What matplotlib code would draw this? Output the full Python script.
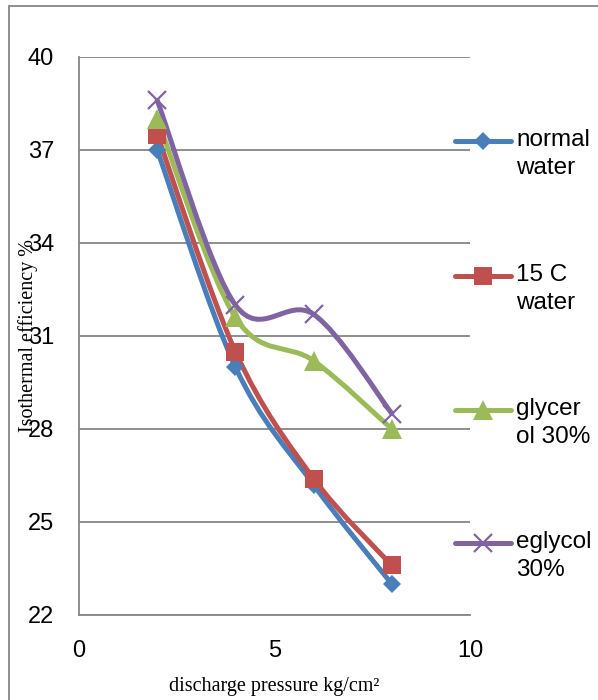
import matplotlib
matplotlib.use("Agg")
import matplotlib.pyplot as plt
import numpy as np
from matplotlib.path import Path
from matplotlib.patches import PathPatch, Rectangle
from matplotlib.lines import Line2D

# ---- data ----
pressure = [2, 4, 6, 8]
normal_water = [37.0, 30.0, 26.2, 23.0]
water_15c = [37.5, 30.5, 26.4, 23.6]
glycerol_30 = [38.0, 31.6, 30.2, 28.0]
eglycol_30 = [38.6, 32.0, 31.7, 28.5]
series_labels = ["normal\nwater", "15 C\nwater", "glycer\nol 30%", "eglycol\n30%"]
x_ticks = [0, 5, 10]
y_ticks = [22, 25, 28, 31, 34, 37, 40]
x_label = "discharge pressure kg/cm²"
y_label = "Isothermal efficiency %"

colors = ["#4A7EBB", "#C0504D", "#9BBB59", "#8064A2"]
markers = ["D", "s", "^", "x"]
msizes = [9, 13, 14, 13]

W, H = 598, 700
fig = plt.figure(figsize=(W / 100, H / 100), dpi=100)
ax = fig.add_axes([79 / W, 1 - 615 / H, (470 - 79) / W, (615 - 57) / H])

grey = "#868686"
sans = ["Liberation Sans", "DejaVu Sans"]
serif = ["Liberation Serif", "DejaVu Serif"]


def smooth_path(xs, ys):
    # Excel-like smoothed line: cubic Bezier through the data points
    P = np.column_stack([xs, ys]).astype(float)
    n = len(P)
    verts = [P[0]]
    codes = [Path.MOVETO]
    for i in range(n - 1):
        p0 = P[i - 1] if i > 0 else P[i]
        p1 = P[i]
        p2 = P[i + 1]
        p3 = P[i + 2] if i + 2 < n else P[i + 1]
        c1 = p1 + (p2 - p0) / 6.0
        c2 = p2 - (p3 - p1) / 6.0
        verts += [c1, c2, p2]
        codes += [Path.CURVE4] * 3
    return Path(verts, codes)


all_series = [normal_water, water_15c, glycerol_30, eglycol_30]
for ys, c, m, ms in zip(all_series, colors, markers, msizes):
    patch = PathPatch(smooth_path(pressure, ys), facecolor="none", edgecolor=c,
                      lw=3.6, capstyle="round", joinstyle="round", zorder=3)
    ax.add_patch(patch)
    if m == "x":
        ax.plot(pressure, ys, ls="none", marker=m, ms=ms, mew=1.6, color=c, zorder=4)
    else:
        ax.plot(pressure, ys, ls="none", marker=m, ms=ms, mew=0, color=c, zorder=4)

ax.set_xlim(0, 10)
ax.set_ylim(22, 40)
ax.set_xticks(x_ticks)
ax.set_yticks(y_ticks)
ax.tick_params(length=0, labelsize=17)
ax.tick_params(axis="y", pad=18)
ax.tick_params(axis="x", pad=18)
for lab in ax.get_xticklabels() + ax.get_yticklabels():
    lab.set_family(sans)

ax.grid(axis="y", color=grey, lw=1.3)
ax.set_axisbelow(True)
for s in ["top", "right"]:
    ax.spines[s].set_visible(False)
for s in ["left", "bottom"]:
    ax.spines[s].set_color(grey)
    ax.spines[s].set_linewidth(1.3)

# axis titles
fig.text(274 / W, 1 - 687 / H, x_label, family=serif, fontsize=14.5,
         ha="center", va="center")
fig.text(28 / W, 1 - 335 / H, y_label, family=serif, fontsize=14.5,
         rotation=90, ha="center", va="center")

# legend (drawn manually to mimic first-line alignment)
leg_y = [141, 276, 410, 543]
for ly, lab, c, m, ms in zip(leg_y, series_labels, colors, markers, msizes):
    yf = 1 - ly / H
    fig.add_artist(Line2D([455 / W, 511 / W], [yf, yf], color=c, lw=3.6,
                          transform=fig.transFigure, solid_capstyle="round"))
    fig.add_artist(Line2D([483 / W], [yf], color=c, marker=m, ms=ms,
                          mew=1.6 if m == "x" else 0, ls="none",
                          transform=fig.transFigure))
    fig.text(516 / W, yf + 12 / H, lab, family=sans, fontsize=17.5, ha="left", va="top",
             linespacing=1.33, transform=fig.transFigure)

# figure border
fig.add_artist(Rectangle((9 / W, -0.1), 1.2, 0.1 + 1 - 6 / H, transform=fig.transFigure,
                         facecolor="none", edgecolor=grey, lw=1.3))

fig.savefig("out.png", dpi=100)
